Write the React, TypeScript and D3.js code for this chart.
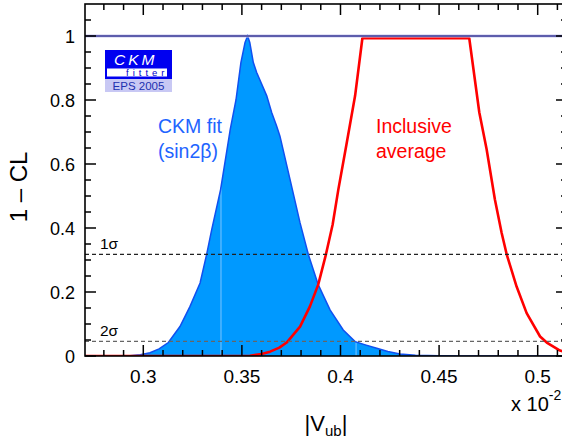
import React from "react";
import * as d3 from "d3";

// CKM fit (sin2beta): |Vub| (x 10^-2) vs 1 - CL
const ckmX = [0.2704, 0.285, 0.2933, 0.2985, 0.3034, 0.308, 0.3127, 0.3186, 0.3237, 0.3288, 0.3321, 0.3347, 0.3392, 0.3441, 0.347, 0.3495, 0.3516, 0.3529, 0.354, 0.3558, 0.3575, 0.3626, 0.3651, 0.3676, 0.3693, 0.3744, 0.3795, 0.3837, 0.3887, 0.3947, 0.4014, 0.4074, 0.413, 0.4184, 0.424, 0.4302, 0.438, 0.45, 0.46, 0.52];
const ckmY = [0, 0, 0.001, 0.004, 0.01, 0.022, 0.042, 0.092, 0.155, 0.228, 0.317, 0.395, 0.52, 0.708, 0.8, 0.917, 0.98, 1.0, 0.98, 0.917, 0.886, 0.813, 0.761, 0.719, 0.687, 0.552, 0.416, 0.317, 0.223, 0.144, 0.0815, 0.045, 0.034, 0.024, 0.014, 0.006, 0.002, 0.0005, 0, 0];

// Inclusive average
const inclX = [0.2704, 0.345, 0.3541, 0.36, 0.3643, 0.369, 0.3727, 0.3795, 0.3845, 0.3887, 0.3926, 0.396, 0.3989, 0.403, 0.4074, 0.4111, 0.4653, 0.4704, 0.4741, 0.4783, 0.4817, 0.4843, 0.4893, 0.4944, 0.5012, 0.5046, 0.5113, 0.52];
const inclY = [0, 0, 0.001, 0.006, 0.0135, 0.026, 0.042, 0.092, 0.155, 0.223, 0.317, 0.41, 0.52, 0.66, 0.813, 0.993, 0.993, 0.761, 0.646, 0.489, 0.385, 0.317, 0.217, 0.134, 0.061, 0.042, 0.017, 0.004];

// fill seams visible in the original rendering
const seamX = [0.3394, 0.4079];

const xMajorTicks = [0.3, 0.35, 0.4, 0.45, 0.5];
const xTickLabels = ["0.3", "0.35", "0.4", "0.45", "0.5"];
const yMajorTicks = [0, 0.2, 0.4, 0.6, 0.8, 1];
const yTickLabels = ["0", "0.2", "0.4", "0.6", "0.8", "1"];
const sigmaLevels = [0.3173, 0.0455];
const sigmaLabels = ["1σ", "2σ"];

const W = 562;
const H = 439;
const L = 85;
const R = 567;
const T = 4;
const B = 356;
const FONT = "'Liberation Sans', Arial, Helvetica, sans-serif";

export default function App() {
  const x = d3.scaleLinear().domain([0.27044, 0.27044 + (R - L) / 1972]).range([L, R]);
  const y = d3.scaleLinear().domain([0, 1.1]).range([B, T]);

  const ckm = ckmX.map((v, i) => [v, ckmY[i]] as [number, number]);
  const incl = inclX.map((v, i) => [v, inclY[i]] as [number, number]);
  const interpCkm = (v: number) => {
    for (let i = 1; i < ckm.length; i++) {
      if (v <= ckm[i][0]) {
        const t = (v - ckm[i - 1][0]) / (ckm[i][0] - ckm[i - 1][0]);
        return ckm[i - 1][1] + t * (ckm[i][1] - ckm[i - 1][1]);
      }
    }
    return 0;
  };

  const area = d3.area<[number, number]>().x((d) => x(d[0])).y0(y(0)).y1((d) => y(d[1]));
  const line = d3.line<[number, number]>().x((d) => x(d[0])).y((d) => y(d[1]));

  const xMinor = d3.range(0.28, 0.515, 0.01).filter((v) => !xMajorTicks.some((m) => Math.abs(m - v) < 1e-6));
  const yMinor = d3.range(0.05, 1.1, 0.05).filter((v) => !yMajorTicks.some((m) => Math.abs(m - v) < 1e-6));
  const maj = 11;
  const mnr = 6;

  return (
    <svg width={W} height={H} style={{ position: "absolute", left: 0, top: 0, background: "#fff" }} fontFamily={FONT}>
      <defs>
        <clipPath id="plot">
          <rect x={L} y={T} width={R - L} height={B - T} />
        </clipPath>
      </defs>
      <g clipPath="url(#plot)">
        <path d={area(ckm) || ""} fill="#0099ff" />
        {seamX.map((v, i) => (
          <line key={i} x1={x(v)} x2={x(v)} y1={y(0)} y2={y(interpCkm(v))} stroke="#7cc6ff" strokeWidth={1} />
        ))}
        <path d={line(ckm) || ""} fill="none" stroke="#1050f0" strokeWidth={1.5} />
        <path d={line(incl) || ""} fill="none" stroke="#ff0000" strokeWidth={2.6} strokeLinejoin="round" />
        {sigmaLevels.map((s, i) => (
          <line key={i} x1={L} x2={R} y1={y(s)} y2={y(s)} stroke={i === 0 ? "#222" : "#666"} strokeWidth={1.2} strokeDasharray="4,3" />
        ))}
        <line x1={L} x2={R} y1={y(1)} y2={y(1)} stroke="#c8c8ee" strokeWidth={3} />
        <line x1={L} x2={R} y1={y(1)} y2={y(1)} stroke="#3a3a96" strokeWidth={1.3} />
      </g>

      {/* frame */}
      <rect x={L} y={T} width={R - L} height={B - T} fill="none" stroke="#000" strokeWidth={1.6} />

      {/* x ticks bottom & top */}
      {xMajorTicks.map((v, i) => (
        <g key={"xm" + i}>
          <line x1={x(v)} x2={x(v)} y1={B} y2={B - maj} stroke="#000" strokeWidth={1.5} />
          <line x1={x(v)} x2={x(v)} y1={T} y2={T + maj} stroke="#000" strokeWidth={1.5} />
          <text x={x(v)} y={383} textAnchor="middle" fontSize={19} fill="#000">{xTickLabels[i]}</text>
        </g>
      ))}
      {xMinor.map((v, i) => (
        <g key={"xn" + i}>
          <line x1={x(v)} x2={x(v)} y1={B} y2={B - mnr} stroke="#000" strokeWidth={1.5} />
          <line x1={x(v)} x2={x(v)} y1={T} y2={T + mnr} stroke="#000" strokeWidth={1.5} />
        </g>
      ))}

      {/* y ticks left & right */}
      {yMajorTicks.map((v, i) => (
        <g key={"ym" + i}>
          <line x1={L} x2={L + maj} y1={y(v)} y2={y(v)} stroke="#000" strokeWidth={1.5} />
          <line x1={R} x2={R - maj} y1={y(v)} y2={y(v)} stroke="#000" strokeWidth={1.5} />
          <text x={75} y={y(v) + 6.5} textAnchor="end" fontSize={18} fill="#000">{yTickLabels[i]}</text>
        </g>
      ))}
      {yMinor.map((v, i) => (
        <g key={"yn" + i}>
          <line x1={L} x2={L + mnr} y1={y(v)} y2={y(v)} stroke="#000" strokeWidth={1.5} />
          <line x1={R} x2={R - mnr} y1={y(v)} y2={y(v)} stroke="#000" strokeWidth={1.5} />
        </g>
      ))}

      {/* sigma labels */}
      {sigmaLabels.map((lab, i) => (
        <text key={i} x={100} y={y(sigmaLevels[i]) - 5} fontSize={15.5} fill="#000">{lab}</text>
      ))}

      {/* axis titles */}
      <text transform="translate(27,187) rotate(-90)" textAnchor="middle" fontSize={24} fill="#000">1 – CL</text>
      <text x={326} y={431} textAnchor="middle" fontSize={22} fill="#000">
        |V<tspan fontSize={15} dy={5}>ub</tspan><tspan dy={-5}>|</tspan>
      </text>
      <text x={511} y={411} fontSize={20} fill="#000">
        x 10<tspan fontSize={14} dy={-11}>-2</tspan>
      </text>

      {/* annotations */}
      <text x={158} y={133} fontSize={19.5} fill="#1e64ff">CKM fit</text>
      <text x={158} y={158} fontSize={19.5} fill="#1e64ff">(sin2β)</text>
      <text x={376} y={133} fontSize={19.5} fill="#ff0000">Inclusive</text>
      <text x={376} y={158} fontSize={19.5} fill="#ff0000">average</text>

      {/* CKMfitter logo */}
      <rect x={105} y={50} width={67} height={29} fill="#0000f0" />
      <rect x={107} y={68.5} width={60} height={8} fill="#fff" />
      <text x={114} y={64.5} fontSize={15.5} fontStyle="italic" fill="#fff" letterSpacing={3}>CKM</text>
      <text x={126} y={75.7} fontSize={9.5} fill="#0000cc" letterSpacing={4}>fitter</text>
      <rect x={105} y={79} width={67} height={13} fill="#c8c8f4" />
      <text x={138.5} y={90} textAnchor="middle" fontSize={11.5} fill="#2030b0">EPS 2005</text>
    </svg>
  );
}
